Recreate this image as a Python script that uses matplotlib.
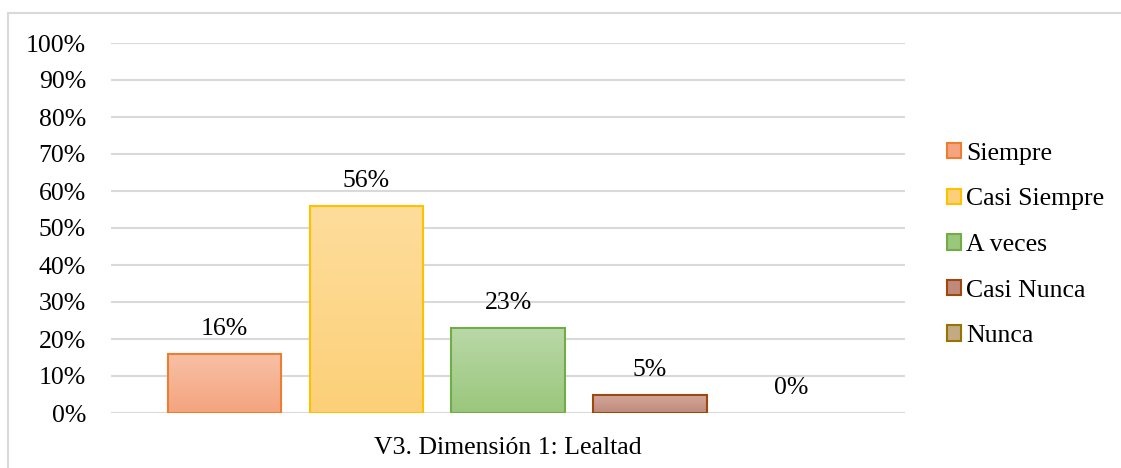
import numpy as np
import matplotlib.pyplot as plt
from matplotlib.colors import LinearSegmentedColormap
from matplotlib.patches import Rectangle

# datos del grafico
categorias = ['Siempre', 'Casi Siempre', 'A veces', 'Casi Nunca', 'Nunca']
valores = [16, 56, 23, 5, 0]
titulo_x = 'V3. Dimensión 1: Lealtad'
ticks_y = [0, 10, 20, 30, 40, 50, 60, 70, 80, 90, 100]

# colores: (arriba, abajo, borde)
col_arriba = ['#F8C0A6', '#FEDD9C', '#BAD8A8', '#D4A89C', '#D2C0A0']
col_abajo = ['#F4A47F', '#FCD078', '#9AC77C', '#BF8A7C', '#C2AB84']
col_borde = ['#ED7D31', '#FFC000', '#70AD47', '#9E480E', '#997300']

plt.rcParams['font.family'] = ['Liberation Serif', 'DejaVu Serif']
fs = 18.5

fig = plt.figure(figsize=(11.21, 4.68), dpi=100)
ax = fig.add_axes([111/1121, 1-413/468, (905-111)/1121, (413-43)/468])

x = np.arange(len(categorias))
ancho = 0.8
lw = [1.5 if v > 0 else 0 for v in valores]
barras = ax.bar(x, valores, ancho, color='none', edgecolor=col_borde, linewidth=lw, zorder=3)

# relleno degradado en cada barra
grad = np.linspace(1, 0, 256).reshape(-1, 1)
for i, b in enumerate(barras):
    if valores[i] == 0:
        continue
    cmap = LinearSegmentedColormap.from_list('g%d' % i, [col_abajo[i], col_arriba[i]])
    im = ax.imshow(grad, cmap=cmap, aspect='auto', zorder=2,
                   extent=[b.get_x(), b.get_x()+b.get_width(), 0, b.get_height()])
    im.set_clip_path(b)

for i, v in enumerate(valores):
    ax.annotate('%d%%' % v, (x[i], v), xytext=(0, 18), textcoords='offset points',
                ha='center', va='center', fontsize=fs, color='black')

ax.set_xlim(-0.8, 4.8)
ax.set_ylim(0, 100)
ax.set_yticks(ticks_y)
ax.set_yticklabels(['%d%%' % t for t in ticks_y], fontsize=fs)
ax.yaxis.grid(True, color='#D9D9D9', linewidth=1.5, zorder=0)
ax.set_xticks([])
ax.tick_params(axis='y', length=0, pad=18)
for s in ax.spines.values():
    s.set_visible(False)
ax.set_axisbelow(True)
ax.set_xlabel(titulo_x, fontsize=fs, labelpad=17)

# leyenda
handles = [Rectangle((0, 0), 1, 1, facecolor=col_abajo[i], edgecolor=col_borde[i], linewidth=1.5)
           for i in range(len(categorias))]
fig.legend(handles, categorias, loc='center left', bbox_to_anchor=(947/1121, 1-245/468),
           frameon=False, fontsize=fs, handlelength=0.55, handleheight=0.55,
           handletextpad=0.2, labelspacing=0.92, borderaxespad=0, borderpad=0)

# marco exterior
fig.patches.append(Rectangle((8/1121, -0.1), 1.2, 1-13/468+0.1, transform=fig.transFigure,
                             facecolor='none', edgecolor='#D9D9D9', linewidth=1.5))

fig.savefig('out.png', dpi=100)
